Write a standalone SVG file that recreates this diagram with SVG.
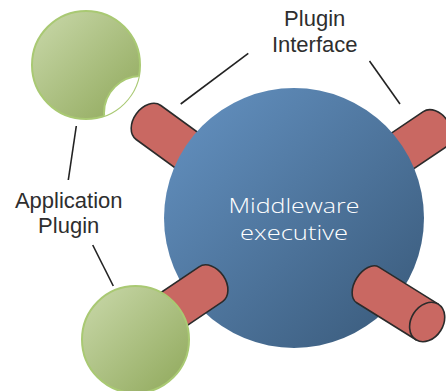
<svg xmlns="http://www.w3.org/2000/svg" width="446" height="391" viewBox="0 0 446 391">
  <style>
    .cyl { fill: #c96862; stroke: #2b2b2b; stroke-width: 1.6; stroke-linejoin: round; }
    .plug { fill: url(#greenGrad); stroke: #a9c973; stroke-width: 2; }
    .lead { stroke: #222; stroke-width: 1.6; fill: none; }
    .label { font-family: "Liberation Sans", Arial, sans-serif; font-size: 22px; fill: #2e2e2e; text-anchor: middle; }
    .core-label { font-family: "Open Sans", "Liberation Sans", sans-serif; font-weight: 300; font-size: 21px; fill: #ffffff; text-anchor: middle; }
  </style>
  <defs>
    <linearGradient id="blueGrad" x1="0" y1="0" x2="1" y2="1">
      <stop offset="0" stop-color="#6593c3"/>
      <stop offset="1" stop-color="#385878"/>
    </linearGradient>
    <linearGradient id="greenGrad" x1="0" y1="0" x2="1" y2="1">
      <stop offset="0" stop-color="#cad9ab"/>
      <stop offset="1" stop-color="#8fa85a"/>
    </linearGradient>
    <clipPath id="topPlugClip">
      <circle cx="86" cy="65" r="54"/>
    </clipPath>
  </defs>

  <!-- connectors: plugs entering the executive from behind -->
  <g id="connectors-back">
    <path class="cyl" transform="translate(148.5,122.5) rotate(36)" d="M0,-21 H95 V21 H0 A15,21 0 0 1 0,-21 Z"/>
    <path class="cyl" transform="translate(435,129) rotate(146)" d="M0,-21 H80 V21 H0 A15,21 0 0 1 0,-21 Z"/>
  </g>

  <!-- middleware executive -->
  <g id="executive">
    <circle cx="294" cy="218" r="130" fill="url(#blueGrad)"/>
    <text class="core-label" x="294" y="213" textLength="131" lengthAdjust="spacingAndGlyphs">Middleware</text>
    <text class="core-label" x="294" y="240" textLength="108" lengthAdjust="spacingAndGlyphs">executive</text>
  </g>

  <!-- connectors: plugs in front of the executive -->
  <g id="connectors-front">
    <path class="cyl" transform="translate(210.8,284.2) rotate(146)" d="M0,-21 H80 V21 H0 A15,21 0 0 1 0,-21 Z"/>
    <g transform="translate(367.8,284.9) rotate(32)">
      <path class="cyl" d="M0,-21 H70 V21 H0 A13,21 0 0 1 0,-21 Z"/>
      <ellipse class="cyl" cx="70" cy="0" rx="16" ry="21"/>
    </g>
  </g>

  <!-- application plugin with open socket -->
  <g id="plugin-top">
    <circle class="plug" cx="86" cy="65" r="54"/>
    <circle cx="141" cy="113" r="37" fill="#ffffff" stroke="#a9c973" stroke-width="2" clip-path="url(#topPlugClip)"/>
  </g>

  <!-- application plugin attached -->
  <g id="plugin-bottom">
    <circle class="plug" cx="135.5" cy="339.5" r="53.5"/>
  </g>

  <!-- leader lines -->
  <g id="leaders">
    <line class="lead" x1="76.3" y1="126" x2="68.3" y2="180"/>
    <line class="lead" x1="92.7" y1="245" x2="113.3" y2="286"/>
    <line class="lead" x1="248.3" y1="53.3" x2="180.7" y2="104"/>
    <line class="lead" x1="369.5" y1="61" x2="400" y2="104"/>
  </g>

  <!-- labels -->
  <g id="labels">
    <text class="label" x="314.7" y="26">Plugin</text>
    <text class="label" x="314.7" y="52.3">Interface</text>
    <text class="label" x="68.7" y="208.3">Application</text>
    <text class="label" x="68.7" y="233.3">Plugin</text>
  </g>
</svg>
